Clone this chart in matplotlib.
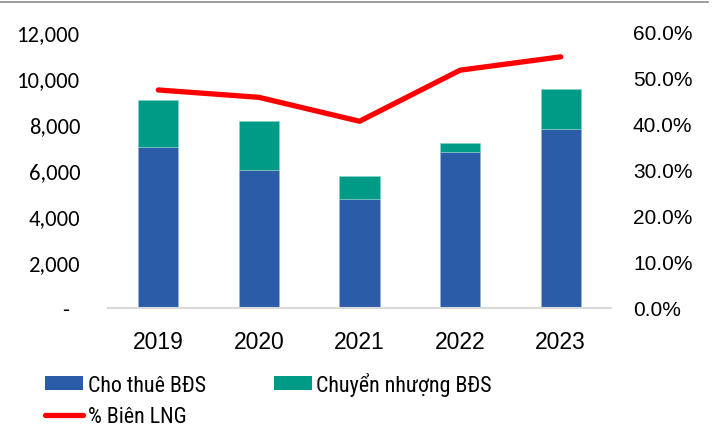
import matplotlib

matplotlib.use("Agg")
import matplotlib.pyplot as plt
from matplotlib.lines import Line2D
from matplotlib.patches import Patch
from matplotlib.ticker import FuncFormatter

# Revenue by segment (bn VND) and net profit margin
years = ["2019", "2020", "2021", "2022", "2023"]
rental = [7000, 6020, 4720, 6800, 7800]
transfer = [2050, 2120, 1000, 390, 1730]
margin = [47.4, 45.8, 40.6, 51.7, 54.6]

BLUE = "#2b5ca8"
TEAL = "#009b87"
RED = "#ff0000"

fig = plt.figure(figsize=(7.12, 4.27), dpi=100)
ax = fig.add_axes([108 / 712, 1 - 309 / 427, 503 / 712, 276 / 427])
x = range(len(years))

ax.bar(x, rental, width=0.4, color=BLUE, edgecolor="#9db4d8", linewidth=0.4, zorder=2)
ax.bar(x, transfer, width=0.4, bottom=rental, color=TEAL, edgecolor="#8fd3c8",
       linewidth=0.4, zorder=2)

ax.set_xlim(-0.5, len(years) - 0.5)
ax.set_ylim(0, 12000)
ax.set_yticks(range(0, 12001, 2000))
ax.yaxis.set_major_formatter(FuncFormatter(lambda v, _: "-  " if v == 0 else f"{v:,.0f}"))
ax.set_xticks(list(x))
ax.set_xticklabels(years)
ax.tick_params(axis="y", length=0, pad=20, labelfontfamily="Carlito", labelsize=16.3)
ax.tick_params(axis="x", length=0, pad=15.5, labelfontfamily="Liberation Sans", labelsize=16.5)
for side in ("top", "right", "left"):
    ax.spines[side].set_visible(False)
ax.spines["bottom"].set_color("#d9d9d9")
ax.spines["bottom"].set_linewidth(1.5)

ax2 = ax.twinx()
ax2.plot(x, margin, color=RED, linewidth=3.8, solid_capstyle="round", zorder=3)
ax2.set_ylim(0, 60)
ax2.set_yticks(range(0, 61, 10))
ax2.yaxis.set_major_formatter(FuncFormatter(lambda v, _: f"{v:.1f}%"))
ax2.tick_params(axis="y", length=0, pad=15.8, labelfontfamily="Liberation Sans", labelsize=15)
for side in ("top", "right", "left", "bottom"):
    ax2.spines[side].set_visible(False)

handles = [
    Patch(facecolor=BLUE, edgecolor="none"),
    Line2D([], [], color=RED, linewidth=3.8, solid_capstyle="round"),
    Patch(facecolor=TEAL, edgecolor="none"),
]
labels = ["Cho thuê BĐS", "% Biên LNG", "Chuyển nhượng BĐS"]
fig.legend(handles, labels, ncol=2, loc="upper left", bbox_to_anchor=(45 / 712, 1 - 373 / 427),
           frameon=False, prop={"family": "Roboto Condensed", "size": 15.8},
           handlelength=1.73, handleheight=0.6, handletextpad=0.21, columnspacing=3.1,
           labelspacing=0.47, borderpad=0, borderaxespad=0)

# thin frame line along the top edge
fig.add_artist(Line2D([0, 708 / 712], [1 - 3 / 427, 1 - 3 / 427], color="#8c8c8c", linewidth=1.2))

fig.savefig("out.png", dpi=100)
